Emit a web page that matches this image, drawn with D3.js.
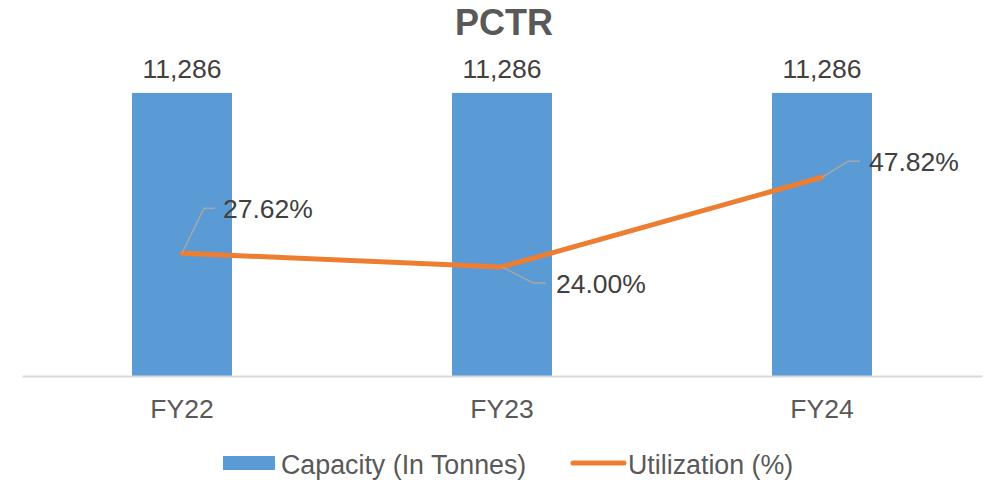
<!DOCTYPE html>
<html>
<head>
<meta charset="utf-8">
<script src="https://cdn.jsdelivr.net/npm/d3@7"></script>
<style>
    body { margin: 0; background: #fff; }
    text { font-family: "Liberation Sans", Arial, sans-serif; }
</style>
</head>
<body>
<svg id="chart"></svg>
<script>
// Data
const categories = ["FY22", "FY23", "FY24"];
const capacity = [11286, 11286, 11286];
const utilization = [27.62, 24.00, 47.82];

const width = 987;
const height = 480;

const margin = { top: 75, right: 5, bottom: 104, left: 22 };

const svg = d3.select("#chart")
    .attr("width", width)
    .attr("height", height);

const x = d3.scaleBand()
    .domain(categories)
    .range([margin.left, width - margin.right])
    .paddingInner(0.6875)
    .paddingOuter(0.34375);

const baseY = height - margin.bottom;

const y = d3.scaleLinear()
    .domain([0, 12000])
    .range([baseY, margin.top]);

// secondary axis for the line (hidden, like the original)
const y2 = d3.scaleLinear()
    .domain([-5, 75])
    .range([baseY, margin.top]);

// Title
svg.append("text")
    .attr("x", 504)
    .attr("y", 35)
    .attr("text-anchor", "middle")
    .attr("font-size", 36)
    .attr("font-weight", "bold")
    .attr("fill", "#595959")
    .text("PCTR");

// Bars
svg.selectAll("rect.bar")
    .data(categories)
    .join("rect")
    .attr("class", "bar")
    .attr("x", d => x(d))
    .attr("y", (d, i) => y(capacity[i]))
    .attr("width", x.bandwidth())
    .attr("height", (d, i) => baseY - y(capacity[i]))
    .attr("fill", "#5b9bd5");

// Bar labels
svg.selectAll("text.barlabel")
    .data(categories)
    .join("text")
    .attr("class", "barlabel")
    .attr("x", d => x(d) + x.bandwidth() / 2)
    .attr("y", (d, i) => y(capacity[i]) - 15)
    .attr("text-anchor", "middle")
    .attr("font-size", 26.5)
    .attr("fill", "#404040")
    .text((d, i) => d3.format(",")(capacity[i]));

// Axis
const xAxis = svg.append("g")
    .attr("transform", `translate(0,${baseY})`)
    .call(d3.axisBottom(x).tickSize(0).tickPadding(23));

xAxis.select(".domain")
    .attr("stroke", "#d9d9d9")
    .attr("stroke-width", 2);

xAxis.selectAll("text")
    .attr("font-size", 26.5)
    .attr("fill", "#595959")
    .style("font-family", "'Liberation Sans', Arial, sans-serif");

// Line
const cx = d => x(d) + x.bandwidth() / 2;

const line = d3.line()
    .x(d => cx(d))
    .y((d, i) => y2(utilization[i]));

svg.append("path")
    .datum(categories)
    .attr("fill", "none")
    .attr("stroke", "#ed7d31")
    .attr("stroke-width", 5)
    .attr("stroke-linecap", "round")
    .attr("stroke-linejoin", "round")
    .attr("d", line);

// Leader lines + labels for the line
const leaders = [
    { dx1: 22, dy1: -45, dx2: 33, tx: 41 },
    { dx1: 31, dy1: 16, dx2: 44, tx: 54 },
    { dx1: 26, dy1: -16, dx2: 38, tx: 47 }
];

categories.forEach((c, i) => {
    const px = cx(c);
    const py = y2(utilization[i]);
    const l = leaders[i];
    svg.append("polyline")
        .attr("points", `${px},${py} ${px + l.dx1},${py + l.dy1} ${px + l.dx2},${py + l.dy1}`)
        .attr("fill", "none")
        .attr("stroke", "#a6a6a6")
        .attr("stroke-width", 1.5);
    svg.append("text")
        .attr("x", px + l.tx)
        .attr("y", py + l.dy1 + 10)
        .attr("font-size", 26.5)
        .attr("fill", "#404040")
        .text(d3.format(".2f")(utilization[i]) + "%");
});

// Legend
const legend = svg.append("g");

legend.append("rect")
    .attr("x", 223)
    .attr("y", 456)
    .attr("width", 52)
    .attr("height", 14)
    .attr("fill", "#5b9bd5");

legend.append("text")
    .attr("x", 281)
    .attr("y", 474)
    .attr("font-size", 26.8)
    .attr("fill", "#595959")
    .text("Capacity (In Tonnes)");

legend.append("line")
    .attr("x1", 573)
    .attr("x2", 624)
    .attr("y1", 463)
    .attr("y2", 463)
    .attr("stroke", "#ed7d31")
    .attr("stroke-width", 5)
    .attr("stroke-linecap", "round");

legend.append("text")
    .attr("x", 628)
    .attr("y", 474)
    .attr("font-size", 26.8)
    .attr("fill", "#595959")
    .text("Utilization (%)");
</script>
</body>
</html>
